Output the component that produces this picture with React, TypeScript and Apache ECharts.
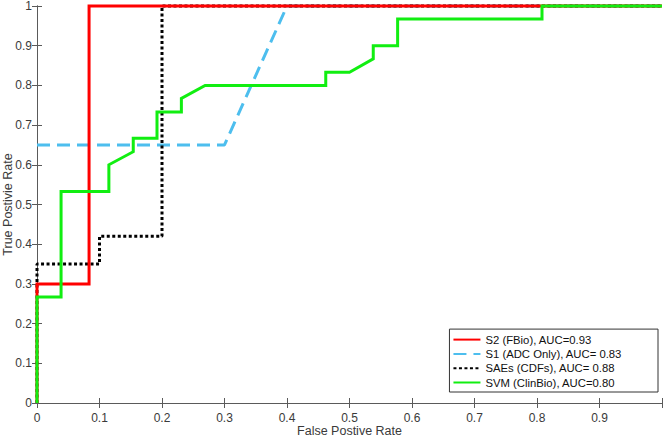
import React, { useEffect, useRef } from "react";
import * as echarts from "echarts";

const xTicks = [0, 0.1, 0.2, 0.3, 0.4, 0.5, 0.6, 0.7, 0.8, 0.9];
const seriesNames = [
  "S2 (FBio), AUC=0.93",
  "S1 (ADC Only), AUC= 0.83",
  "SAEs (CDFs), AUC= 0.88",
  "SVM (ClinBio), AUC=0.80",
];

const s2Points: [number, number][] = [
  [0, 0], [0, 0.3], [0.0833, 0.3], [0.0833, 1], [1, 1],
];
const s1Points: [number, number][] = [
  [0, 0.65], [0.3, 0.65], [0.4, 1], [1, 1],
];
const saePoints: [number, number][] = [
  [0, 0], [0, 0.35], [0.1, 0.35], [0.1, 0.42], [0.2, 0.42], [0.2, 1], [1, 1],
];
const svmPoints: [number, number][] = [
  [0, 0], [0, 0.267], [0.0385, 0.267], [0.0385, 0.533], [0.115, 0.533],
  [0.115, 0.6], [0.154, 0.633], [0.154, 0.667], [0.192, 0.667], [0.192, 0.733],
  [0.231, 0.733], [0.231, 0.767], [0.269, 0.8], [0.462, 0.8], [0.462, 0.833],
  [0.5, 0.833], [0.538, 0.867], [0.538, 0.9], [0.577, 0.9], [0.577, 0.967],
  [0.808, 0.967], [0.808, 1], [1, 1],
];

const FONT = "'Liberation Sans', Arial, Helvetica, sans-serif";
const AXIS_COLOR = "#5a5a5a";
const LABEL_COLOR = "#3a3a3a";

export default function App() {
  const ref = useRef<HTMLDivElement>(null);
  useEffect(() => {
    if (!ref.current) return;
    const chart = echarts.init(ref.current, undefined, { renderer: "svg" });
    const fmt = (v: number) => {
      const r = Math.round(v * 10) / 10;
      return String(r);
    };
    const baseAxis = {
      min: 0,
      max: 1,
      interval: 0.1,
      splitLine: { show: false },
      axisLine: { show: true, lineStyle: { color: AXIS_COLOR, width: 1 } },
      axisTick: { show: true, inside: true, length: 5, lineStyle: { color: AXIS_COLOR } },
    };
    chart.setOption({
      animation: false,
      backgroundColor: "#fff",
      textStyle: { fontFamily: FONT },
      grid: { left: 37, right: 1, top: 6, bottom: 36, containLabel: false, outerBoundsMode: "none" },
      legend: {
        orient: "vertical",
        right: 5,
        bottom: 47,
        data: seriesNames,
        backgroundColor: "#fff",
        borderColor: "#333",
        borderWidth: 1,
        borderRadius: 0,
        padding: [5, 36, 4, 3],
        itemWidth: 27,
        itemHeight: 12,
        itemGap: 3.3,
        itemStyle: { opacity: 0 },
        textStyle: { fontSize: 11.3, color: "#111", fontFamily: FONT },
      },
      xAxis: [
        {
          ...baseAxis,
          type: "value",
          position: "bottom",
          name: "False Postive Rate",
          nameLocation: "middle",
          nameGap: 21,
          nameMoveOverlap: false,
          nameTextStyle: { fontSize: 12.5, color: LABEL_COLOR, fontFamily: FONT },
          axisLabel: {
            color: LABEL_COLOR,
            fontSize: 12,
            margin: 9,
            formatter: (v: number) => (xTicks.some((t) => Math.abs(t - v) < 1e-6) ? fmt(v) : ""),
          },
        },
        {
          ...baseAxis,
          type: "value",
          position: "top",
          axisLabel: { show: false },
        },
      ],
      yAxis: [
        {
          ...baseAxis,
          type: "value",
          position: "left",
          name: "True Postivie Rate",
          nameLocation: "middle",
          nameGap: 23,
          nameMoveOverlap: false,
          nameTextStyle: { fontSize: 12.5, color: LABEL_COLOR, fontFamily: FONT },
          axisLabel: { color: LABEL_COLOR, fontSize: 12, margin: 5, formatter: fmt },
        },
        {
          ...baseAxis,
          type: "value",
          position: "right",
          axisLabel: { show: false },
        },
      ],
      series: [
        {
          name: seriesNames[0],
          type: "line",
          data: s2Points,
          showSymbol: false,
          symbol: "none",
          clip: false,
          z: 4,
          lineStyle: { color: "#ff0000", width: 3, join: "miter" },
          itemStyle: { color: "#ff0000" },
        },
        {
          name: seriesNames[1],
          type: "line",
          data: s1Points,
          showSymbol: false,
          symbol: "none",
          clip: false,
          z: 2,
          lineStyle: { color: "#4dbeee", width: 3, type: [13, 7] },
          itemStyle: { color: "#4dbeee" },
        },
        {
          name: seriesNames[2],
          type: "line",
          data: saePoints,
          showSymbol: false,
          symbol: "none",
          clip: false,
          z: 3,
          lineStyle: { color: "#000000", width: 3, type: [3, 2.5] },
          itemStyle: { color: "#000000" },
        },
        {
          name: seriesNames[3],
          type: "line",
          data: svmPoints,
          showSymbol: false,
          symbol: "none",
          clip: false,
          z: 5,
          lineStyle: { color: "#11ee11", width: 3, join: "miter" },
          itemStyle: { color: "#11ee11" },
        },
      ],
    });
    return () => chart.dispose();
  }, []);
  return (
    <div
      ref={ref}
      style={{ position: "fixed", left: 0, top: 0, width: 663, height: 439, background: "#fff" }}
    />
  );
}
